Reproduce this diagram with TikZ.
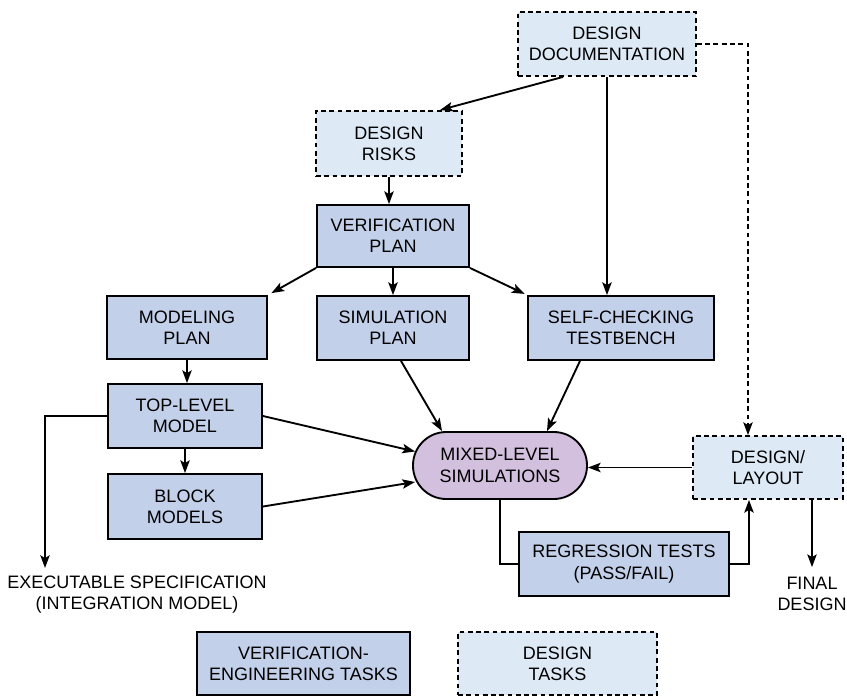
\documentclass[tikz,border=0pt]{standalone}
\usepackage{fontspec}
\setmainfont{Liberation Sans}
\usetikzlibrary{arrows.meta,calc}

\definecolor{vfill}{RGB}{195,208,234}
\definecolor{dfill}{RGB}{222,233,246}
\definecolor{mfill}{RGB}{211,191,222}

\tikzset{every picture/.style={line width=1.4pt}}
\tikzset{
  lbl/.style={align=center, font=\fontsize{13.5}{16}\selectfont},
  vtask/.style={lbl, draw, fill=vfill, inner sep=0pt},
  dtask/.style={lbl, draw, fill=dfill, inner sep=0pt, dash pattern=on 3.6pt off 2.6pt},
  simbox/.style={lbl, draw, fill=mfill, inner sep=0pt, rounded corners=25pt},
  arr/.style={-{Stealth[length=9.5pt,width=7pt,inset=2pt]}},
}

\begin{document}
\begin{tikzpicture}[x=0.75pt,y=0.75pt,yscale=-1,xscale=1]
	\path[use as bounding box] (0,0) rectangle (847,696);
	
	%Shape: Design boxes
	\node (doc) at (607,44) [dtask, minimum width=133.5pt, minimum height=48pt] {DESIGN\\DOCUMENTATION};
	\node (risks) at (389,143.5) [dtask, minimum width=109.5pt, minimum height=48.75pt] {DESIGN\\RISKS};
	\node (layout) at (768,467.5) [dtask, minimum width=112.5pt, minimum height=47.25pt] {DESIGN/\\LAYOUT};
	
	%Shape: Verification boxes
	\node (vplan) at (393,236) [vtask, minimum width=114pt, minimum height=46.5pt] {VERIFICATION\\PLAN};
	\node (mplan) at (187,327.5) [vtask, minimum width=120pt, minimum height=47.25pt] {MODELING\\PLAN};
	\node (splan) at (393,328) [vtask, minimum width=114pt, minimum height=48pt] {SIMULATION\\PLAN};
	\node (tb) at (621,328) [vtask, minimum width=139.5pt, minimum height=48pt] {SELF-CHECKING\\TESTBENCH};
	\node (top) at (185,416) [vtask, minimum width=115.5pt, minimum height=48pt] {TOP-LEVEL\\MODEL};
	\node (block) at (185,506.5) [vtask, minimum width=115.5pt, minimum height=48.75pt] {BLOCK\\MODELS};
	\node (regr) at (624,564) [vtask, minimum width=157.5pt, minimum height=48pt] {REGRESSION TESTS\\(PASS/FAIL)};
	
	%Shape: Simulations
	\node (mixed) at (500,465.5) [simbox, minimum width=130.5pt, minimum height=50.25pt] {MIXED-LEVEL\\SIMULATIONS};
	
	% Text Node
	\node (spec) at (137,594.5) [lbl, inner sep=0.75pt] {EXECUTABLE SPECIFICATION\\(INTEGRATION MODEL)};
	% Text Node
	\node (final) at (812,594) [lbl, inner sep=0.75pt] {FINAL\\DESIGN};
	\coordinate (specin) at (45,568);
	
	%Straight Lines
	\draw[arr] ($(doc.south)+(-44,0)$) -- ($(risks.north)+(51,0)$);
	\draw[arr] (doc.south) -- (doc.south |- tb.north);
	\draw[arr, dash pattern=on 3.6pt off 2.6pt] (doc.east) -| ($(layout.north)+(-20,0)$);
	\draw[arr] (risks.south) -- (risks.south |- vplan.north);
	\draw[arr, shorten >=3pt] (vplan.south west) -- (mplan.north east);
	\draw[arr] (vplan.south) -- (splan.north);
	\draw[arr, shorten >=2pt] (vplan.south east) -- (tb.north west);
	\draw[arr] (mplan.south) -- (mplan.south |- top.north);
	\draw[arr] (top.south) -- (block.north);
	\draw[arr] (top.west) -| (specin);
	\draw[arr] (top.east) -- ($(mixed.west)+(3,-14)$);
	\draw[arr] (block.east) -- ($(mixed.west)+(3,16.5)$);
	\draw[arr] ($(splan.south)+(8,0)$) -- ($(mixed.north)+(-58,0)$);
	\draw[arr] ($(tb.south)+(-41,0)$) -- ($(mixed.north)+(47,0)$);
	\draw[arr] (layout.west) -- (layout.west -| mixed.east);
	\draw (mixed.south) |- (regr.west);
	\draw[arr] (regr.east) -| ($(layout.south)+(-19,0)$);
	\draw[arr, shorten >=6pt] (final.north |- layout.south) -- (final.north);
	
	%Shape: Legend
	\node (legv) at (303.5,663.5) [vtask, minimum width=159.75pt, minimum height=47.25pt] {VERIFICATION-\\ENGINEERING TASKS};
	\node (legd) at (557.5,663.5) [dtask, minimum width=149.25pt, minimum height=47.25pt] {DESIGN\\TASKS};
	
\end{tikzpicture}
\end{document}
